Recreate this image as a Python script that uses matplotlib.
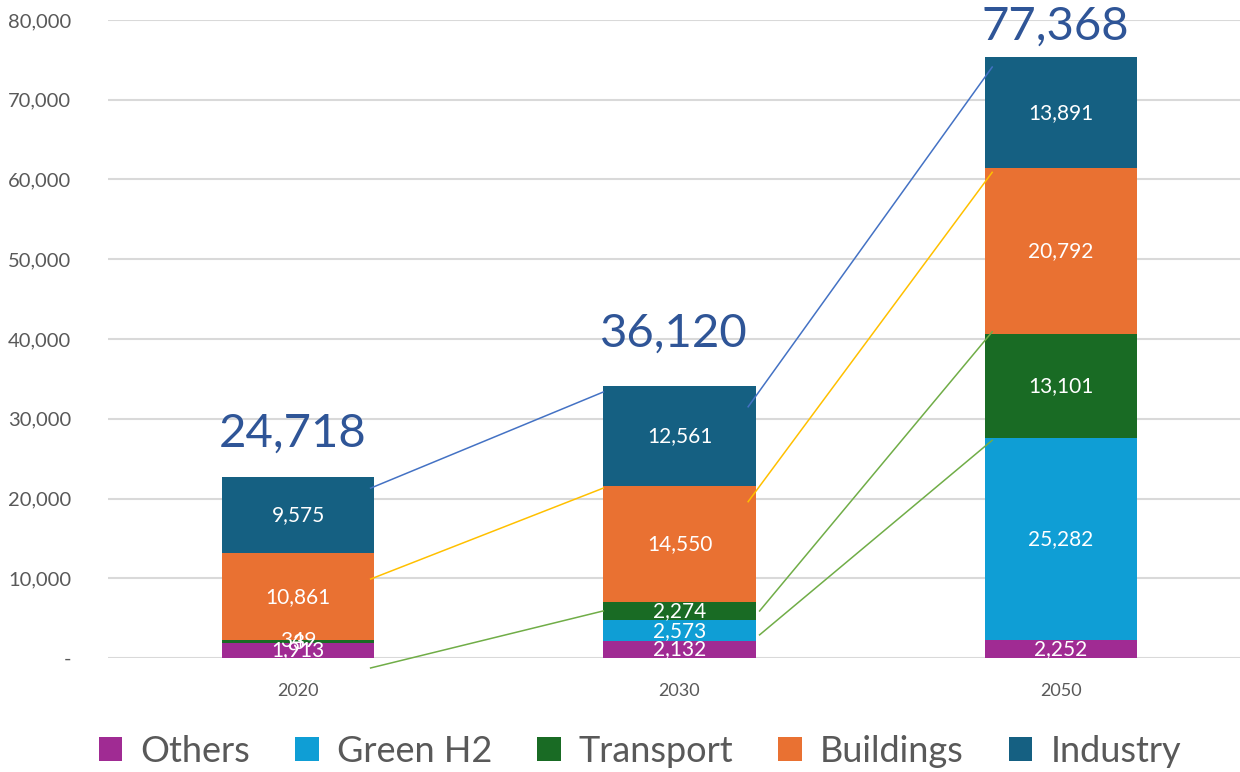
import matplotlib

matplotlib.use("Agg")
import matplotlib.pyplot as plt
from matplotlib.patches import Patch
import numpy as np

plt.rcParams['font.family'] = ['Lato', 'DejaVu Sans']

years = ["2020", "2030", "2050"]
series_names = ["Others", "Green H2", "Transport", "Buildings", "Industry"]
others = [1913, 2132, 2252]
green_h2 = [3, 2573, 25282]
transport = [349, 2274, 13101]
buildings = [10861, 14550, 20792]
industry = [9575, 12561, 13891]
totals = [24718, 36120, 77368]

# hand-drawn connector lines: (colour key, x0, y0, x1, y1) in category/value units
connectors = [
    ("blue", 0.19, 21300, 0.80, 33350),
    ("yellow", 0.19, 9900, 0.80, 21300),
    ("green", 0.19, -1250, 0.80, 5900),
    ("blue", 1.18, 31500, 1.82, 74100),
    ("yellow", 1.18, 19600, 1.82, 60900),
    ("green", 1.21, 5900, 1.82, 40900),
    ("green", 1.21, 2900, 1.82, 27300),
]

colors = ["#A02B93", "#0F9ED5", "#196B24", "#E97132", "#156082"]
line_colors = {"blue": "#4472C4", "yellow": "#FFC000", "green": "#70AD47"}
total_offsets = [22, 31, 10]  # pixels above bar top

fig = plt.figure(figsize=(12.4, 7.72), dpi=100)
ax = fig.add_axes([107.5 / 1240, 1 - 658 / 772, 1144 / 1240, 638 / 772])

x = np.arange(len(years))
data = [others, green_h2, transport, buildings, industry]
bottom = np.zeros(len(years))
for name, vals, col in zip(series_names, data, colors):
    vals = np.array(vals, dtype=float)
    ax.bar(x, vals, width=0.40, bottom=bottom, color=col, label=name, zorder=2)
    for xi, b, v in zip(x, bottom, vals):
        ax.text(xi, b + v / 2, f"{int(v):,}", ha="center", va="center",
                color="white", fontsize=15, zorder=4)
    bottom += vals

for xi, top, tot, off in zip(x, bottom, totals, total_offsets):
    ax.annotate(f"{tot:,}", (xi - 0.015, top), xytext=(0, off * 0.72),
                textcoords="offset points", ha="center", va="bottom",
                color="#2F5597", fontsize=34, annotation_clip=False, zorder=4)

for key, x0, y0, x1, y1 in connectors:
    ax.plot([x0, x1], [y0, y1], color=line_colors[key], lw=1.1,
            clip_on=False, zorder=3)

ax.set_xlim(-0.5, 2.5)
ax.set_ylim(0, 80000)
ax.set_yticks(np.arange(0, 80001, 10000))
ax.set_yticklabels(["-" if v == 0 else f"{v:,}" for v in range(0, 80001, 10000)])
ax.set_xticks(x)
ax.set_xticklabels(years)
ax.tick_params(axis="y", length=0, pad=26, labelsize=14.5, labelcolor="#595959")
ax.tick_params(axis="x", length=0, pad=18, labelsize=13, labelcolor="#595959")
ax.grid(axis="y", color="#D9D9D9", lw=1.5, zorder=0)
ax.set_axisbelow(True)
for s in ax.spines.values():
    s.set_visible(False)

handles = [Patch(facecolor=c, label=n) for n, c in zip(series_names, colors)]
fig.legend(handles=handles, loc="center", bbox_to_anchor=(0.516, 1 - 751 / 772),
           ncol=5, frameon=False, fontsize=26, labelcolor="#595959",
           handlelength=0.65, handleheight=0.65, handletextpad=0.5,
           columnspacing=1.25, borderaxespad=0)

fig.savefig("out.png", dpi=100)
plt.close()
